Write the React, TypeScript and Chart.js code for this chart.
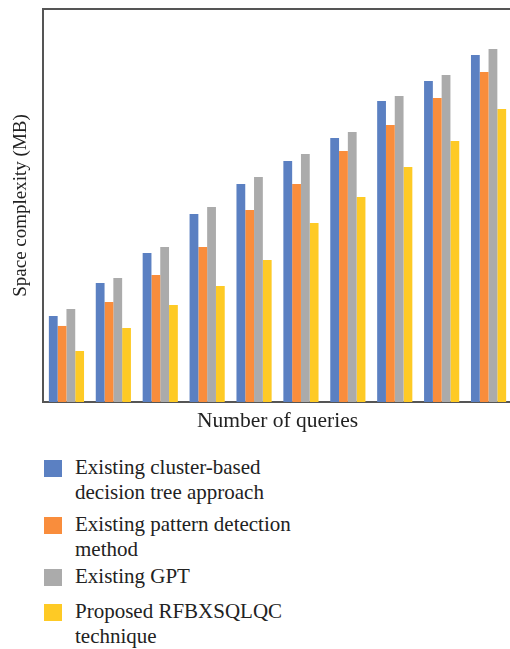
import React, { useEffect, useRef } from "react";
import { Chart, registerables } from "chart.js";

Chart.register(...registerables);

const categories = ["1", "2", "3", "4", "5", "6", "7", "8", "9", "10"];
const clusterTree = [87.5, 121.1, 151.7, 191.3, 221.9, 245.3, 268.7, 306.4, 326.7, 353.2];
const patternDetection = [77.4, 101.8, 129.3, 157.8, 195.4, 221.9, 255.5, 281.9, 309.4, 335.9];
const existingGpt = [94.7, 126.2, 157.8, 198.5, 229.0, 252.4, 274.8, 311.4, 332.8, 359.3];
const proposed = [51.9, 75.3, 98.7, 118.1, 144.5, 182.2, 208.7, 239.2, 265.6, 298.2];

const seriesLines = [
  ["Existing cluster-based", "decision tree approach"],
  ["Existing pattern detection", "method"],
  ["Existing GPT"],
  ["Proposed RFBXSQLQC", "technique"],
];
const seriesColors = ["#5B80C2", "#F98D3C", "#ABABAB", "#FECA25"];
const seriesValues = [clusterTree, patternDetection, existingGpt, proposed];

const xTitle = "Number of queries";
const yTitle = "Space complexity (MB)";

const FONT = "'Liberation Serif', 'DejaVu Serif', serif";

const frameTop = {
  id: "frameTop",
  afterDraw(chart: any) {
    const { ctx, chartArea } = chart;
    ctx.save();
    ctx.strokeStyle = "#555555";
    ctx.lineWidth = 2;
    ctx.beginPath();
    ctx.moveTo(chartArea.left - 1, chartArea.top);
    ctx.lineTo(chartArea.right, chartArea.top);
    ctx.stroke();
    ctx.restore();
  },
};

const itemGaps = [7, 2, 10, 0];

export default function App() {
  const ref = useRef<HTMLCanvasElement | null>(null);

  useEffect(() => {
    document.body.style.margin = "0";
    const canvas = ref.current;
    if (!canvas) return;
    const chart = new Chart(canvas, {
      type: "bar",
      data: {
        labels: categories,
        datasets: seriesValues.map((vals, i) => ({
          label: seriesLines[i].join(" "),
          data: vals,
          backgroundColor: seriesColors[i],
          borderWidth: 0,
          categoryPercentage: 0.75,
          barPercentage: 1,
        })),
      },
      options: {
        animation: false,
        responsive: false,
        maintainAspectRatio: false,
        layout: { padding: { top: 9, left: 0, right: 0, bottom: 0 } },
        plugins: {
          legend: { display: false },
          tooltip: { enabled: false },
        },
        scales: {
          x: {
            grid: { display: false, drawTicks: false },
            border: { display: true, color: "#555555", width: 2 },
            ticks: { display: false },
            title: {
              display: true,
              text: xTitle,
              color: "#222222",
              font: { family: FONT, size: 21.5 },
              padding: { top: 0, bottom: 6 },
            },
            afterFit: (s: any) => {
              s.height = 38;
            },
          },
          y: {
            min: 0,
            max: 400,
            grid: { display: false, drawTicks: false },
            border: { display: true, color: "#555555", width: 2 },
            ticks: { display: false },
            title: {
              display: true,
              text: yTitle,
              color: "#222222",
              font: { family: FONT, size: 19 },
              padding: { top: 10, bottom: 0 },
            },
            afterFit: (s: any) => {
              s.width = 43;
            },
          },
        },
      },
      plugins: [frameTop],
    });
    return () => chart.destroy();
  }, []);

  return (
    <div
      style={{
        position: "relative",
        width: 510,
        height: 649,
        overflow: "hidden",
        background: "#ffffff",
        fontFamily: FONT,
      }}
    >
      <canvas ref={ref} width={512} height={440} style={{ display: "block", width: 512, height: 440 }} />
      <div style={{ position: "absolute", left: 44, top: 455 }}>
        {seriesLines.map((lines, i) => (
          <div
            key={i}
            style={{
              display: "flex",
              alignItems: "flex-start",
              marginBottom: itemGaps[i],
            }}
          >
            <div
              style={{
                width: 18,
                height: 17,
                background: seriesColors[i],
                marginTop: 5,
                marginRight: 13,
                flex: "none",
              }}
            />
            <div style={{ fontSize: 21, lineHeight: "25px", color: "#222222", whiteSpace: "nowrap" }}>
              {lines.map((l, j) => (
                <div key={j}>{l}</div>
              ))}
            </div>
          </div>
        ))}
      </div>
    </div>
  );
}
